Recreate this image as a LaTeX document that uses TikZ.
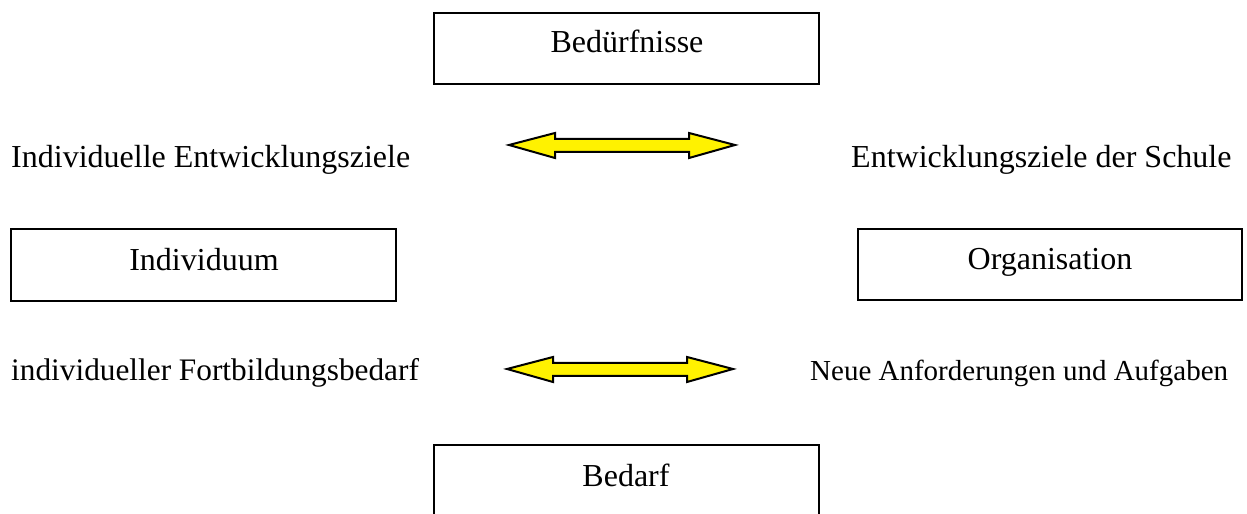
\documentclass[tikz,border=0pt]{standalone}
\usepackage{fontspec}
\setmainfont{Liberation Serif}
\begin{document}
\begin{tikzpicture}[x=1bp,y=-1bp,
  boxstyle/.style={draw=black,line width=1.8bp,rectangle,inner sep=0pt},
  txt/.style={inner sep=0pt,font=\fontsize{32bp}{36bp}\selectfont},
  smalltxt/.style={inner sep=0pt,font=\fontsize{29bp}{34bp}\selectfont},
  dblarrow/.style={fill=yellow,draw=black,line width=2bp,line join=miter}]
\clip (0,0) rectangle (1247,514);
\fill[white] (0,0) rectangle (1247,514);
% boxes
\node[boxstyle,minimum width=385bp,minimum height=71bp] (bed) at (626.5,48.5) {};
\node[boxstyle,minimum width=385bp,minimum height=72bp] (ind) at (203.5,265) {};
\node[boxstyle,minimum width=384bp,minimum height=71bp] (org) at (1050,264.5) {};
\node[boxstyle,minimum width=385bp,minimum height=80bp] (bdf) at (626.5,485) {};
% box texts
\node[txt,anchor=base] (bedt) at (627,53) {Bedürfnisse};
\node[txt,anchor=base] (indt) at (204,271) {Individuum};
\node[txt,anchor=base] (orgt) at (1050,270) {Organisation};
\node[txt,anchor=base] (bdft) at (626,486) {Bedarf};
% side texts
\node[txt,anchor=base west] (l1) at (11,168) {Individuelle Entwicklungsziele};
\node[txt,anchor=base west] (r1) at (851,168) {Entwicklungsziele der Schule};
\node[txt,anchor=base west,font=\fontsize{31.3bp}{36bp}\selectfont] (l2) at (11,381) {individueller Fortbildungsbedarf};
\node[smalltxt,anchor=base west] (r2) at (810,381) {Neue Anforderungen und Aufgaben};
% double arrows
\draw[dblarrow] (509,145) -- (555,133) -- (555,139) -- (689,139) -- (689,133) -- (735,145)
  -- (689,158) -- (689,152) -- (555,152) -- (555,158) -- cycle;
\draw[dblarrow] (507,369) -- (553,357) -- (553,363) -- (687,363) -- (687,357) -- (733,369)
  -- (687,382) -- (687,376) -- (553,376) -- (553,382) -- cycle;
\end{tikzpicture}
\end{document}
